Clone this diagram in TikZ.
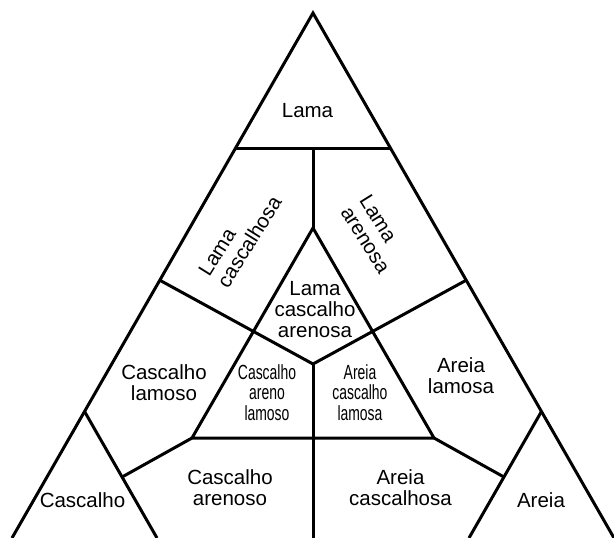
\documentclass[tikz,border=0pt]{standalone}
\usepackage{fontspec}
\setmainfont{Liberation Sans}
\newfontfamily\narrowfont[FakeStretch=0.68]{Liberation Sans}
\usetikzlibrary{calc}
\begin{document}
\begin{tikzpicture}[x=1pt,y=-1pt,
  seg/.style={line width=3pt},
  lbl/.style={font=\fontsize{20.5}{21}\selectfont, align=center, inner sep=0pt},
  rlbl/.style={font=\fontsize{20.5}{22}\selectfont, align=left, inner sep=0pt},
  nlbl/.style={font=\narrowfont\fontsize{20.5}{20.5}\selectfont, align=center, inner sep=0pt}]
\useasboundingbox (0,0) rectangle (614,538);
% frame points
\coordinate (A) at (313,13);
\coordinate (BL) at (12,538);
\coordinate (BR) at (614,538);
\coordinate (L1) at ($(A)!0.259!(BL)$);
\coordinate (R1) at ($(A)!0.259!(BR)$);
\coordinate (M1) at ($(L1)!0.5!(R1)$);
\coordinate (I) at (313,228);
\coordinate (IL) at (192,438);
\coordinate (IR) at (434,438);
\coordinate (C) at (313,364);
\coordinate (Bot) at (313,538);
\coordinate (YL) at ($(A)!0.509!(BL)$);
\coordinate (YR) at ($(A)!0.509!(BR)$);
\coordinate (CL) at ($(A)!0.759!(BL)$);
\coordinate (CR) at ($(A)!0.759!(BR)$);
\coordinate (CLb) at (157,538);
\coordinate (CRb) at (469,538);
\coordinate (PL) at ($(CL)!0.518!(CLb)$);
\coordinate (PR) at ($(CR)!0.518!(CRb)$);
% lines
\draw[seg] (BL) -- (A) -- (BR);
\draw[seg] (L1) -- (R1);
\draw[seg] (M1) -- (I);
\draw[seg] (I) -- (IL) -- (IR) -- cycle;
\draw[seg] (YL) -- (C) -- (YR);
\draw[seg] (C) -- (Bot);
\draw[seg] (CL) -- (CLb);
\draw[seg] (CR) -- (CRb);
\draw[seg] (IL) -- (PL);
\draw[seg] (IR) -- (PR);
% labels
\node[lbl] (lama) at (307.5,111) {Lama};
\node[rlbl, rotate=58] (lcasc) at (240,236) {Lama\\cascalhosa};
\node[rlbl, rotate=-58] (laren) at (375,234) {Lama\\arenosa};
\node[lbl] (lca) at (315,310) {Lama\\cascalho\\arenosa};
\node[lbl] (clam) at (164,383) {Cascalho\\lamoso};
\node[lbl] (alam) at (461,376) {Areia\\lamosa};
\node[nlbl] (cal) at (267,392.5) {Cascalho\\areno\\lamoso};
\node[nlbl] (acl) at (360,392.5) {Areia\\cascalho\\lamosa};
\node[lbl] (casc) at (82.5,500.3) {Cascalho};
\node[lbl] (caren) at (230,487.3) {Cascalho\\arenoso};
\node[lbl] (acasc) at (400.5,487.3) {Areia\\cascalhosa};
\node[lbl] (areia) at (541,500.3) {Areia};
\end{tikzpicture}
\end{document}
